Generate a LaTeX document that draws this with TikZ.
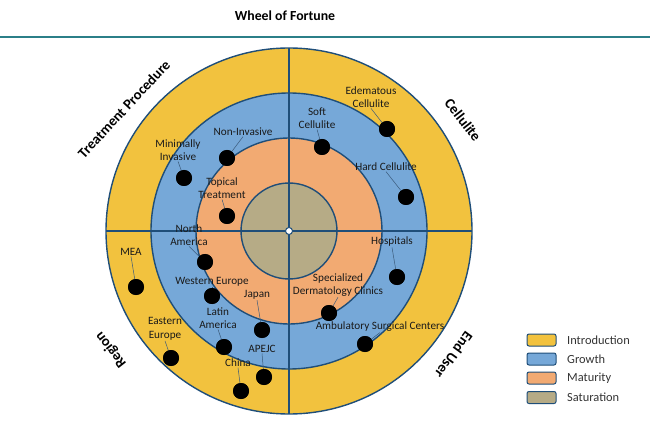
\documentclass[tikz,border=0pt]{standalone}
\usepackage{fontspec}
\setmainfont{Carlito}
\definecolor{introC}{HTML}{F2C23E}
\definecolor{growC}{HTML}{76A8D8}
\definecolor{matC}{HTML}{F2AA72}
\definecolor{satC}{HTML}{B6AB86}
\definecolor{ringline}{HTML}{1F4E79}
\definecolor{tealline}{HTML}{2B7F88}
\definecolor{labeltext}{HTML}{1A1A1A}
\definecolor{legtext}{HTML}{333333}
\definecolor{leadcol}{HTML}{3A5A7A}
\begin{document}
\begin{tikzpicture}[x=1pt,y=-1pt,
  ring/.style={draw=ringline, line width=1.4pt},
  dot/.style={circle, fill=black, inner sep=0pt, minimum size=16pt},
  lbl/.style={font=\fontsize{11.2}{13.5}\selectfont, align=center, inner sep=0.5pt, text=labeltext},
  lead/.style={draw=leadcol, line width=0.5pt},
  cat/.style={font=\fontsize{14.5}{16}\selectfont\bfseries, text=black},
  legbox/.style={draw=ringline, rounded corners=2pt, minimum width=29pt, minimum height=12pt, inner sep=0pt, line width=1pt},
  legtxt/.style={anchor=west, font=\fontsize{12.4}{14}\selectfont, text=legtext, inner sep=0pt}]
\useasboundingbox (0,0) rectangle (650,430);
% title and rule
\node[font=\fontsize{13.8}{15}\selectfont\bfseries] (title) at (285,16) {Wheel of Fortune};
\draw[tealline, line width=2.2pt] (0,37) -- (650,37);
% wheel
\coordinate (c) at (289,231);
\filldraw[ring, fill=introC] (c) circle (183pt);
\filldraw[ring, fill=growC] (c) circle (138pt);
\filldraw[ring, fill=matC] (c) circle (93pt);
\filldraw[ring, fill=satC] (c) circle (48pt);
\draw[ring] (289,48) -- (289,414);
\draw[ring] (106,231) -- (472,231);
\node[circle, fill=white, draw=ringline, line width=1pt, minimum size=7pt, inner sep=0pt] (hub) at (c) {};
% category labels
\node[cat, rotate=47] (tp) at (124,109) {Treatment Procedure};
\node[cat, rotate=-52] (cel) at (463,120) {Cellulite};
\node[cat, rotate=128] (reg) at (111,350) {Region};
\node[cat, rotate=-126] (eu) at (454,355) {End User};
% Treatment Procedure
\node[lbl] (tMI) at (178,150) {Minimally\\Invasive};
\node[dot] (dMI) at (184,178) {};
\node[lbl] (tNI) at (243,132) {Non-Invasive};
\node[dot] (dNI) at (227,158) {};
\node[lbl] (tTT) at (222,188) {Topical\\Treatment};
\node[dot] (dTT) at (227,216) {};
% Cellulite
\node[lbl] (tEC) at (371,97) {Edematous\\Cellulite};
\node[dot] (dEC) at (387,129) {};
\node[lbl] (tSC) at (317,118) {Soft\\Cellulite};
\node[dot] (dSC) at (322,147) {};
\node[lbl] (tHC) at (386,167) {Hard Cellulite};
\node[dot] (dHC) at (406,197) {};
% Region
\node[lbl] (tNA) at (189,235) {North\\America};
\node[dot] (dNA) at (205,262) {};
\node[lbl] (tMEA) at (131,252) {MEA};
\node[dot] (dMEA) at (136,287) {};
\node[lbl] (tWE) at (212,282) {Western Europe};
\node[dot] (dWE) at (212,296) {};
\node[lbl] (tJP) at (257,295) {Japan};
\node[dot] (dJP) at (262,330) {};
\node[lbl] (tLA) at (218,318) {Latin\\America};
\node[dot] (dLA) at (224,347) {};
\node[lbl] (tEE) at (165,329) {Eastern\\Europe};
\node[dot] (dEE) at (171,358) {};
\node[lbl] (tAP) at (262,349) {APEJC};
\node[dot] (dAP) at (264,377) {};
\node[lbl] (tCN) at (238,363) {China};
\node[dot] (dCN) at (241,391) {};
% End User
\node[lbl] (tHO) at (392,242) {Hospitals};
\node[dot] (dHO) at (397,277) {};
\node[lbl] (tSD) at (338,285) {Specialized\\Dermatology Clinics};
\node[dot] (dSD) at (329,313) {};
\node[lbl] (tAS) at (380,327) {Ambulatory Surgical Centers};
\node[dot] (dAS) at (365,344) {};
% leaders
\foreach \n in {MI,NI,TT,EC,SC,HC,NA,MEA,WE,JP,LA,EE,AP,CN,HO,SD,AS}
  \draw[lead] (t\n.south) -- (d\n.center);
\foreach \n in {MI,NI,TT,EC,SC,HC,NA,MEA,WE,JP,LA,EE,AP,CN,HO,SD,AS}
  \fill[black] (d\n) circle (8pt);
% legend
\node[legbox, fill=introC] (b1) at (541.5,340) {};
\node[legbox, fill=growC] (b2) at (541.5,359) {};
\node[legbox, fill=matC] (b3) at (541.5,378) {};
\node[legbox, fill=satC] (b4) at (541.5,397.5) {};
\node[legtxt] (l1) at (567,340) {Introduction};
\node[legtxt] (l2) at (567,359) {Growth};
\node[legtxt] (l3) at (567,378) {Maturity};
\node[legtxt] (l4) at (567,397.5) {Saturation};
\end{tikzpicture}
\end{document}
